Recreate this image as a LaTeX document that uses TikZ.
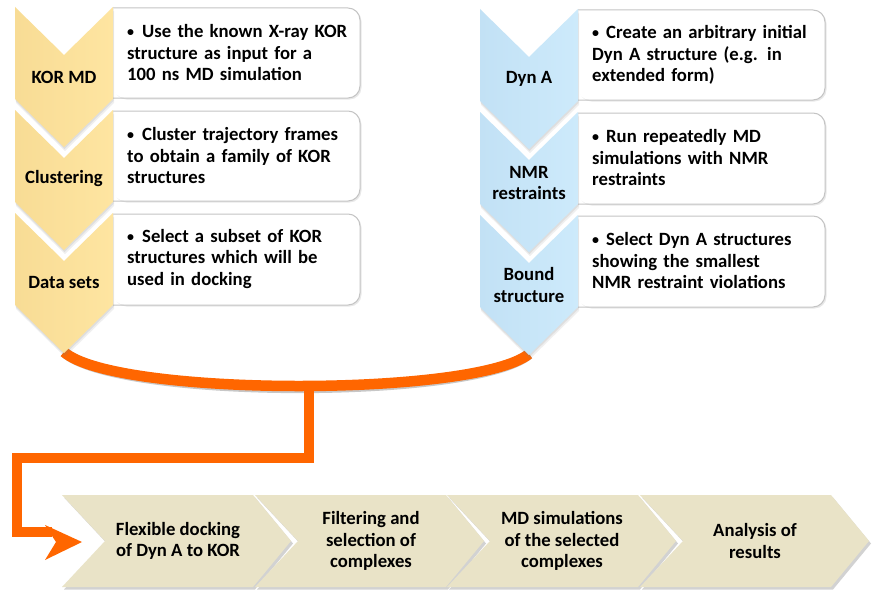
\documentclass[tikz,border=0pt]{standalone}
\usepackage{fontspec}
\setmainfont{Carlito}
\usetikzlibrary{shadows}
\definecolor{orng}{HTML}{FF6600}
\definecolor{yelD}{HTML}{F8DC95}
\definecolor{yelL}{HTML}{FEE5A1}
\definecolor{bluD}{HTML}{C2E1F5}
\definecolor{bluL}{HTML}{CDEAFB}
\definecolor{beige}{HTML}{E9E3C7}
\definecolor{boxgray}{HTML}{C4C4C4}
\newcommand\VChev[3]{% x0, y0, style
  \path[#3, drop shadow={shadow xshift=1pt, shadow yshift=-4pt, opacity=.12},
            drop shadow={shadow xshift=0.5pt, shadow yshift=-2pt, opacity=.15}]
    (#1,#2) -- ++(49,48) -- ++(49,-48) -- ++(0,92) -- ++(-49,48) -- ++(-49,-48) -- cycle;}
\newcommand\TBox[3]{% x0, top, bottom
  \fill[white, drop shadow={shadow xshift=1.5pt, shadow yshift=-1.5pt, opacity=.18}, rounded corners=12pt]
    (#1,#2) -- (#1+247,#2) -- (#1+247,#3) -- (#1,#3) [sharp corners] -- cycle;
  \draw[tbox, rounded corners=12pt] (#1,#2) -- (#1+247,#2) -- (#1+247,#3) -- (#1,#3);}
\newcommand\HChev[1]{% x0
  \path[beigeshape] (#1,495) -- (#1+191,495) -- (#1+229,541) -- (#1+191,587) -- (#1,587) -- (#1+43,541) -- cycle;}
\newcommand\bul[1]{\hangindent=#1\hangafter=1\makebox[#1][l]{\raisebox{1pt}{\fontsize{14}{14}\selectfont\textbullet}}}
\begin{document}
\begin{tikzpicture}[x=1pt,y=-1pt,
  lab/.style={font=\fontsize{18.7}{21.3}\selectfont\bfseries, align=center, inner sep=0pt, text=black},
  btxt/.style={font=\fontsize{18.7}{21.5}\selectfont\bfseries, align=left, anchor=west, inner sep=0pt, text width=236pt, text=black},
  tbox/.style={draw=boxgray, line width=1pt},
  yel/.style={left color=yelD, right color=yelL},
  blu/.style={left color=bluD, right color=bluL},
  beigeshape/.style={fill=beige, drop shadow={shadow xshift=2pt, shadow yshift=-2.5pt, opacity=.35}},
  orline/.style={draw=orng, line width=10.5pt, line join=miter},
  orshadow/.style={draw=black, opacity=.22, line width=10.5pt, line join=miter},
]
\useasboundingbox (0,0) rectangle (873,594);
\fill[white] (0,0) rectangle (873,594);

% connector coordinates
\coordinate (lTip) at (64,352);
\coordinate (rTip) at (529,354);
\coordinate (join) at (309,384);
\coordinate (turnA) at (309,458);
\coordinate (turnB) at (17,458);
\coordinate (turnC) at (17,532);
\coordinate (arrEnd) at (52,532);

% orange connector (shadow first)
\begin{scope}[shift={(1.5,2.5)}]
  \draw[orshadow] (lTip) .. controls (115,397) and (475,397) .. (rTip);
  \draw[orshadow] (join) -- (turnA) -- (turnB) -- (turnC) -- (arrEnd);
\end{scope}
\draw[orline] (lTip) .. controls (115,397) and (475,397) .. (rTip);
\draw[orline] (join) -- (turnA) -- (turnB) -- (turnC) -- (arrEnd);
\fill[orng] (45,525) -- (82,542) -- (45,560) -- (56,542) -- cycle;

% left column
\TBox{113}{8}{98}
\TBox{113}{111}{201}
\TBox{113}{214}{305}
\VChev{15}{213}{yel}
\VChev{15}{110}{yel}
\VChev{15}{7}{yel}
\node[lab] (korMD) at (64,77) {KOR MD};
\node[lab] (clus) at (64,179) {Clustering};
\node[lab] (dsets) at (64,283) {Data sets};
\node[btxt] (t1) at (127,53) {\bul{15pt}Use the known X-ray KOR\\structure as input for a\\100 ns MD simulation};
\node[btxt] (t2) at (127,156) {\bul{15pt}Cluster trajectory frames\\to obtain a family of KOR\\structures};
\node[btxt] (t3) at (127,259) {\bul{15pt}Select a subset of KOR\\structures which will be\\used in docking};

% right column
\TBox{578}{10}{100}
\TBox{578}{113}{204}
\TBox{578}{216}{307}
\VChev{480}{215}{blu}
\VChev{480}{112}{blu}
\VChev{480}{9}{blu}
\node[lab] (dynA) at (529,79) {Dyn A};
\node[lab] (nmr) at (529,183) {NMR\\restraints};
\node[lab] (bound) at (529,285) {Bound\\structure};
\node[btxt] (r1) at (592,55) {\bul{14pt}Create an arbitrary initial\\Dyn A structure (e.g. in\\extended form)};
\node[btxt] (r2) at (592,158) {\bul{14pt}Run repeatedly MD\\simulations with NMR\\restraints};
\node[btxt] (r3) at (592,261) {\bul{14pt}Select Dyn A structures\\showing the smallest\\NMR restraint violations};

% bottom row
\HChev{62}
\HChev{255}
\HChev{447}
\HChev{640}
\node[lab] (b1) at (178,541) {Flexible docking\\of Dyn A to KOR};
\node[lab] (b2) at (371,541) {Filtering and\\selection of\\complexes};
\node[lab] (b3) at (562,541) {MD simulations\\of the selected\\complexes};
\node[lab] (b4) at (755,541) {Analysis of\\results};
\end{tikzpicture}
\end{document}
